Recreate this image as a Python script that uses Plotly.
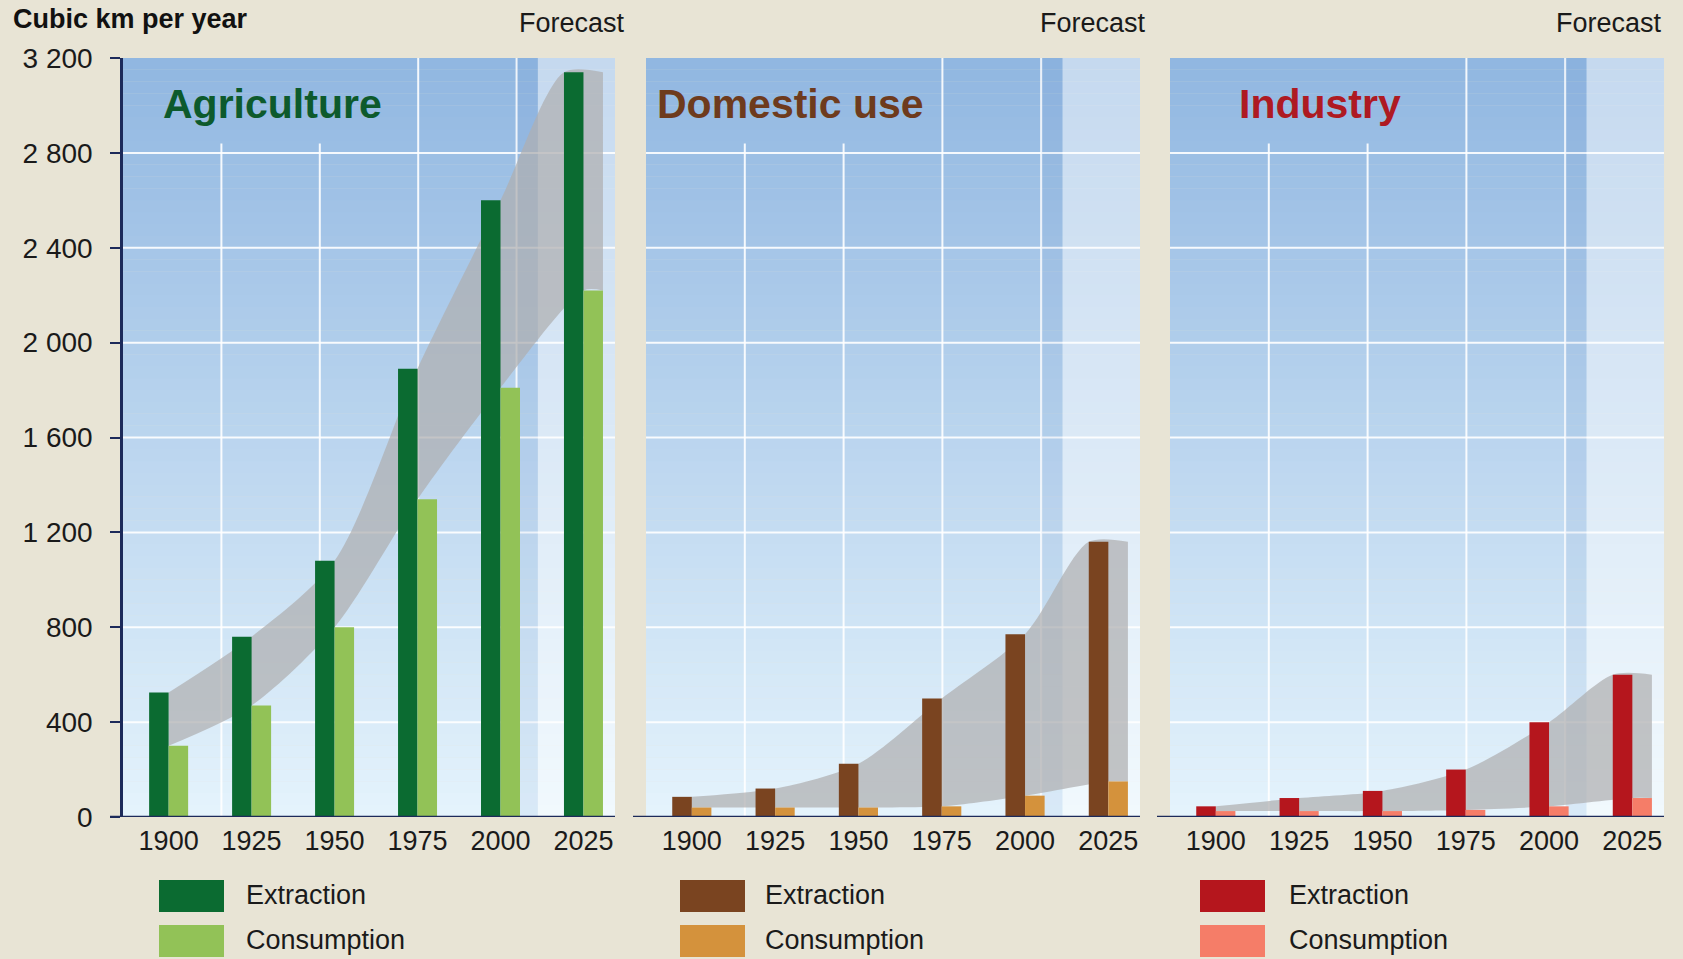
import plotly.graph_objects as go

# ---------------- data ----------------
years = ["1900", "1925", "1950", "1975", "2000", "2025"]
agri_extraction = [525, 760, 1080, 1890, 2600, 3140]
agri_consumption = [300, 470, 800, 1340, 1810, 2220]
dom_extraction = [85, 120, 225, 500, 770, 1160]
dom_consumption = [40, 40, 40, 45, 90, 150]
ind_extraction = [45, 80, 110, 200, 400, 600]
ind_consumption = [25, 25, 25, 30, 45, 80]
y_ticks = [0, 400, 800, 1200, 1600, 2000, 2400, 2800, 3200]
SP = "\u00a0"
y_tick_labels = ["0", "400", "800", "1" + SP + "200", "1" + SP + "600", "2" + SP + "000",
                 "2" + SP + "400", "2" + SP + "800", "3" + SP + "200"]
panel_titles = ["Agriculture", "Domestic use", "Industry"]
series_names = ["Extraction", "Consumption"]
forecast_label = "Forecast"
unit_label = "Cubic km per year"

# ---------------- styling ----------------
W, H = 1683, 959
M_T, M_B = 58, 142
PLOT_H = H - M_T - M_B
FONT = "Liberation Sans, Arial, sans-serif"
NAVY = "#1c2a5a"
BG = "#e8e4d5"
ext_colors = ["#0b6b31", "#7a4420", "#b5161d"]
con_colors = ["#92c257", "#d4923c", "#f57d68"]
title_colors = ["#0d5a2c", "#6e3b1d", "#ae1a22"]
x_domains_px = [(123, 615), (646, 1140), (1170, 1664)]
x_range = [-0.55, 5.38]
y_range = [0, 3200]
bar_w = 0.235
forecast_start = 4.45

panels = [(agri_extraction, agri_consumption),
          (dom_extraction, dom_consumption),
          (ind_extraction, ind_consumption)]

fig = go.Figure()
shapes = []
annotations = []


def py2paper(py):
    return (H - M_B - py) / PLOT_H


def sfx(n):
    return "" if n == 1 else str(n)


top_rgb = (145, 183, 225)
bot_rgb = (228, 243, 252)
N_STRIPS = 64

for k, (ext, con) in enumerate(panels):
    xa, ya = "x" + sfx(k + 1), "y" + sfx(k + 1)          # base axes (background, band)
    xo, yo = "x" + sfx(k + 4), "y" + sfx(k + 4)          # overlay axes (bars on top)
    xs = list(range(len(years)))

    # background gradient strips
    for i in range(N_STRIPS):
        t = i / (N_STRIPS - 1)
        c = tuple(round(bot_rgb[j] + (top_rgb[j] - bot_rgb[j]) * t) for j in range(3))
        y0 = y_range[1] * i / N_STRIPS
        y1 = min(y_range[1] * (i + 1) / N_STRIPS + 1, y_range[1])
        shapes.append(dict(type="rect", xref=xa + " domain", yref=ya,
                           x0=0, x1=1, y0=y0, y1=y1,
                           fillcolor="rgb(%d,%d,%d)" % c, line_width=0, layer="below"))
    # slightly darker strip before forecast
    shapes.append(dict(type="rect", xref=xa, yref=ya,
                       x0=x_range[0] + 0.8 * (x_range[1] - x_range[0]), x1=forecast_start,
                       y0=0, y1=y_range[1], fillcolor="rgba(70,120,190,0.07)",
                       line_width=0, layer="below"))
    # forecast region (lighter)
    shapes.append(dict(type="rect", xref=xa, yref=ya,
                       x0=forecast_start, x1=x_range[1], y0=0, y1=y_range[1],
                       fillcolor="rgba(255,255,255,0.48)", line_width=0, layer="below"))
    # horizontal grid lines
    for yv in y_ticks[1:-1]:
        shapes.append(dict(type="line", xref=xa + " domain", yref=ya, x0=0, x1=1,
                           y0=yv, y1=yv, line=dict(color="rgba(255,255,255,0.9)", width=2),
                           layer="below"))
    # vertical grid lines
    for j, fx in enumerate([0.2, 0.4, 0.6, 0.8]):
        shapes.append(dict(type="line", xref=xa + " domain", yref=ya, x0=fx, x1=fx,
                           y0=0, y1=2840 if j < 2 else y_range[1],
                           line=dict(color="rgba(255,255,255,0.9)", width=2),
                           layer="below"))
    # x axis baseline
    d0, d1 = x_domains_px[k]
    shapes.append(dict(type="line", xref="paper", yref=ya, x0=(d0 - 13) / W, x1=d1 / W,
                       y0=0, y1=0, line=dict(color=NAVY, width=2.5), layer="above"))

    # gray band between consumption and extraction
    lower_x = xs + [xs[-1] + bar_w]
    lower_y = con + [con[-1]]
    upper_x = xs[:-1] + [xs[-1] - bar_w, xs[-1] + bar_w]
    upper_y = ext + [ext[-1]]
    fig.add_trace(go.Scatter(x=lower_x, y=lower_y, mode="lines",
                             line=dict(width=0, shape="spline", smoothing=0.8),
                             hoverinfo="skip", showlegend=False, xaxis=xa, yaxis=ya))
    fig.add_trace(go.Scatter(x=upper_x, y=upper_y, mode="lines", fill="tonexty",
                             fillcolor="rgba(174,174,176,0.72)",
                             line=dict(width=0, shape="spline", smoothing=0.8),
                             hoverinfo="skip", showlegend=False, xaxis=xa, yaxis=ya))
    # bars (on overlay axes so they sit above the band)
    fig.add_trace(go.Bar(x=xs, y=ext, width=bar_w, offset=-bar_w, name=series_names[0],
                         marker=dict(color=ext_colors[k], line_width=0),
                         showlegend=False, xaxis=xo, yaxis=yo))
    fig.add_trace(go.Bar(x=xs, y=con, width=bar_w, offset=0, name=series_names[1],
                         marker=dict(color=con_colors[k], line_width=0),
                         showlegend=False, xaxis=xo, yaxis=yo))

    # panel title
    title_x = [161, 655, 1237][k]
    annotations.append(dict(text=panel_titles[k], xref="paper", yref="paper",
                            x=title_x / W, y=py2paper(104), xanchor="left", yanchor="middle",
                            showarrow=False,
                            font=dict(family=FONT, size=41, color=title_colors[k], weight="bold")))
    # forecast label
    fc_x = [627, 1148, 1664][k]
    annotations.append(dict(text=forecast_label, xref="paper", yref="paper",
                            x=fc_x / W, y=py2paper(23), xanchor="right", yanchor="middle",
                            showarrow=False, font=dict(family=FONT, size=27, color="#1a1a1a")))
    # legend
    sw_x0 = [159, 680, 1200][k]
    txt_x = [244, 763, 1287][k]
    for r, (nm, col) in enumerate([(series_names[0], ext_colors[k]),
                                   (series_names[1], con_colors[k])]):
        py0 = 880 + r * 45
        shapes.append(dict(type="rect", xref="paper", yref="paper",
                           x0=sw_x0 / W, x1=(sw_x0 + 65) / W,
                           y0=py2paper(py0 + 32), y1=py2paper(py0),
                           fillcolor=col, line_width=0, layer="above"))
        annotations.append(dict(text=nm, xref="paper", yref="paper",
                                x=txt_x / W, y=py2paper(py0 + 15), xanchor="left",
                                yanchor="middle", showarrow=False,
                                font=dict(family=FONT, size=27, color="#1a1a1a")))

annotations.append(dict(text=unit_label, xref="paper", yref="paper",
                        x=11 / W, y=py2paper(19), xanchor="left", yanchor="middle",
                        showarrow=False,
                        font=dict(family=FONT, size=27, color="#111111", weight="bold")))

layout = dict(
    width=W, height=H,
    margin=dict(l=0, r=0, t=M_T, b=M_B, autoexpand=False),
    paper_bgcolor=BG, plot_bgcolor="rgba(0,0,0,0)",
    barmode="overlay", showlegend=False,
    font=dict(family=FONT, size=26, color="#1a1a1a"),
    shapes=shapes, annotations=annotations,
)
for k in range(3):
    s, so = sfx(k + 1), sfx(k + 4)
    d0, d1 = x_domains_px[k]
    layout["xaxis" + s] = dict(
        domain=[d0 / W, d1 / W], range=x_range, tickmode="array",
        tickvals=list(range(len(years))), ticktext=years, ticks="",
        showgrid=False, zeroline=False, showline=False, fixedrange=True,
        tickfont=dict(family=FONT, size=27, color="#1a1a1a"), ticklabelstandoff=5,
        anchor="y" + s)
    yax = dict(domain=[0, 1], range=y_range, showgrid=False, zeroline=False,
               fixedrange=True, anchor="x" + s)
    if k == 0:
        yax.update(tickmode="array", tickvals=y_ticks, ticktext=y_tick_labels,
                   showline=True, linecolor=NAVY, linewidth=2.5,
                   ticks="outside", ticklen=10, tickwidth=2, tickcolor=NAVY,
                   tickfont=dict(family=FONT, size=28, color="#1a1a1a"),
                   ticklabelstandoff=12)
    else:
        yax.update(showticklabels=False, showline=False, ticks="")
    layout["yaxis" + s] = yax
    # overlay axes for bars
    layout["xaxis" + so] = dict(overlaying="x" + s, range=x_range, visible=False,
                                fixedrange=True, anchor="y" + so)
    layout["yaxis" + so] = dict(overlaying="y" + s, range=y_range, visible=False,
                                fixedrange=True, anchor="x" + so)

fig.update_layout(**layout)
fig.write_html("out.html", config={"displayModeBar": False},
               post_script="document.body.style.margin='0';document.body.style.background='%s';" % BG)
